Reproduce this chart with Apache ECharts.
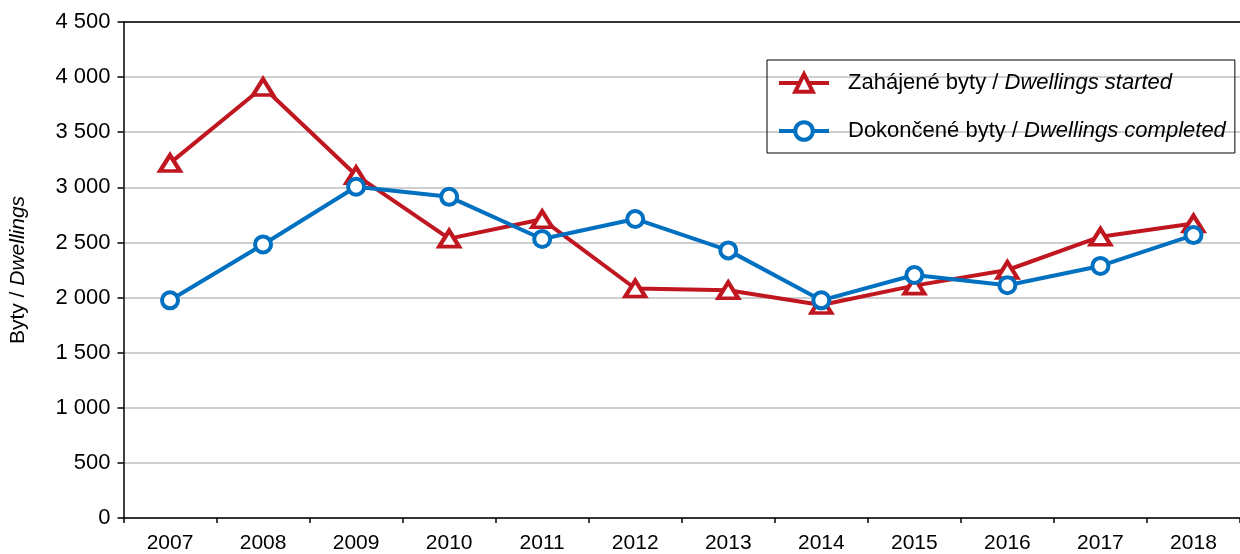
<!DOCTYPE html>
<html>
<head>
<meta charset="utf-8">
<script src="https://cdn.jsdelivr.net/npm/echarts@6/dist/echarts.min.js"></script>
<style>
  html, body { margin: 0; padding: 0; background: #fff; }
  #chart { width: 1240px; height: 554px; }
</style>
</head>
<body>
<div id="chart"></div>
<script>
// Dwellings started and completed, 2007–2018
const years = ['2007', '2008', '2009', '2010', '2011', '2012', '2013', '2014', '2015', '2016', '2017', '2018'];
const started = [3220, 3910, 3110, 2535, 2710, 2082, 2066, 1932, 2108, 2250, 2552, 2672];
const completed = [1975, 2482, 3005, 2914, 2531, 2713, 2428, 1975, 2205, 2112, 2287, 2567];
const yTicks = { min: 0, max: 4500, interval: 500 };
const seriesNames = ['Zahájené byty / Dwellings started', 'Dokončené byty / Dwellings completed'];

const FONT = '"Liberation Sans", Arial, sans-serif';
const FS = 21;
const FS_BIG = 22;
const RED = '#C0161F';
const BLUE = '#0070C0';

// thousands separated by a space, e.g. 4 500
const fmt = v => String(v).replace(/\B(?=(\d{3})+(?!\d))/g, ' ');

// plain Czech part + italic English part
const richParts = (size, padLeft) => ({
  n: { fontFamily: FONT, fontSize: size, color: '#000', lineHeight: 22, padding: [0, 0, 0, padLeft] },
  i: { fontFamily: FONT, fontSize: size, color: '#000', lineHeight: 22, fontStyle: 'italic' }
});

const chart = echarts.init(document.getElementById('chart'), null, { renderer: 'canvas' });

chart.setOption({
  backgroundColor: '#ffffff',
  animation: false,
  textStyle: { fontFamily: FONT },
  grid: { left: 122, top: 22, width: 1129, height: 496, containLabel: false },
  legend: {
    left: 767,
    top: 60,
    orient: 'vertical',
    padding: [12, 9, 11, 10],
    itemGap: 26,
    itemWidth: 50,
    itemHeight: 22,
    borderColor: '#000',
    borderWidth: 1,
    lineStyle: { width: 4 },
    itemStyle: { borderWidth: 4 },
    textStyle: { fontFamily: FONT, fontSize: FS_BIG, color: '#000', rich: richParts(FS_BIG, 14) },
    formatter: name => {
      const [cz, en] = name.split(' / ');
      return '{n|' + cz + ' / }{i|' + en + '}';
    },
    data: seriesNames
  },
  xAxis: [
    {
      type: 'category',
      data: years,
      boundaryGap: true,
      axisLine: { lineStyle: { color: '#000', width: 1.5 } },
      axisTick: { show: true, length: 5, inside: false, lineStyle: { color: '#000', width: 1.5 } },
      axisLabel: { color: '#000', fontSize: FS, fontFamily: FONT, margin: 15 },
      splitLine: { show: false }
    },
    {
      // plot area top border
      type: 'category',
      data: years,
      position: 'top',
      axisLine: { show: true, lineStyle: { color: '#000', width: 1.5 } },
      axisTick: { show: false },
      axisLabel: { show: false },
      splitLine: { show: false }
    }
  ],
  yAxis: {
    type: 'value',
    min: yTicks.min,
    max: yTicks.max,
    interval: yTicks.interval,
    name: '{n|Byty / }{i|Dwellings}',
    nameLocation: 'middle',
    nameRotate: 90,
    nameGap: 94,
    nameTextStyle: { rich: richParts(FS, 0) },
    axisLine: { show: true, lineStyle: { color: '#000', width: 1.5 } },
    axisTick: { show: true, length: 6, inside: false, lineStyle: { color: '#000', width: 1.5 } },
    axisLabel: { color: '#000', fontSize: FS_BIG, fontFamily: FONT, margin: 13, formatter: fmt },
    splitLine: { show: true, lineStyle: { color: '#BFBFBF', width: 1.5 } }
  },
  series: [
    {
      name: seriesNames[0],
      type: 'line',
      data: started,
      symbol: 'triangle',
      symbolSize: [20, 16],
      showAllSymbol: true,
      lineStyle: { color: RED, width: 4 },
      itemStyle: { color: '#fff', borderColor: RED, borderWidth: 4 },
      emphasis: { disabled: true }
    },
    {
      name: seriesNames[1],
      type: 'line',
      data: completed,
      symbol: 'circle',
      symbolSize: 16,
      showAllSymbol: true,
      lineStyle: { color: BLUE, width: 4 },
      itemStyle: { color: '#fff', borderColor: BLUE, borderWidth: 4 },
      emphasis: { disabled: true }
    }
  ]
});
</script>
</body>
</html>
